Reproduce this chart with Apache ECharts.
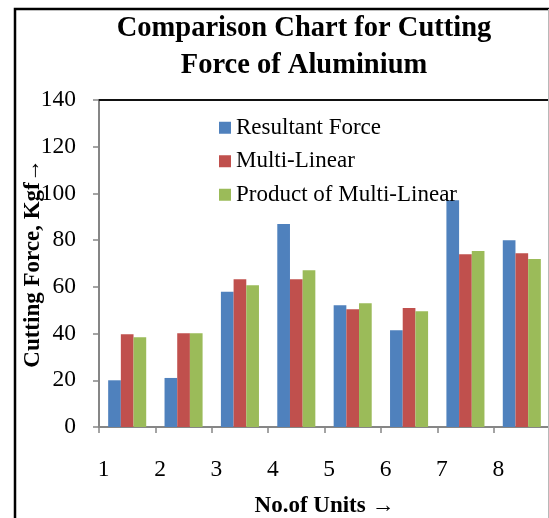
<!DOCTYPE html>
<html>
<head>
<meta charset="utf-8">
<style>
  html, body { margin: 0; padding: 0; background: #fff; }
  #chart { width: 549px; height: 518px; }
</style>
<script src="https://cdn.jsdelivr.net/npm/echarts@6/dist/echarts.min.js"></script>
</head>
<body>
<div id="chart"></div>
<script>
// Cutting force per unit for aluminium (Kgf)
const units = ['1', '2', '3', '4', '5', '6', '7', '8'];
const resultantForce = [20.0, 21.0, 57.9, 86.9, 52.1, 41.4, 97.1, 80.0];
const multiLinear = [39.7, 40.1, 63.3, 63.3, 50.4, 50.9, 74.0, 74.4];
const productOfMultiLinear = [38.4, 40.1, 60.7, 67.1, 53.0, 49.6, 75.3, 71.9];
const yTicks = { min: 0, max: 140, interval: 20 };

const serif = '"Liberation Serif", "Times New Roman", serif';
const axisGrey = '#868686';

const chart = echarts.init(document.getElementById('chart'), null, { renderer: 'canvas' });

chart.setOption({
  animation: false,
  backgroundColor: '#fff',
  textStyle: { fontFamily: serif, color: '#000' },
  title: {
    text: 'Comparison Chart for Cutting\nForce of Aluminium',
    left: 299,
    top: 5,
    textAlign: 'center',
    textStyle: {
      fontFamily: serif,
      fontSize: 28.5,
      fontWeight: 'bold',
      lineHeight: 37,
      color: '#000'
    }
  },
  legend: {
    orient: 'vertical',
    left: 214,
    top: 111,
    itemWidth: 12,
    itemHeight: 12,
    itemGap: 10,
    icon: 'rect',
    textStyle: { fontFamily: serif, fontSize: 23, lineHeight: 23.5, color: '#000' },
    data: ['Resultant Force', 'Multi-Linear', 'Product of Multi-Linear']
  },
  grid: {
    left: 99, top: 100, width: 451, height: 327,
    containLabel: false,
    outerBoundsMode: 'none'
  },
  xAxis: [
    {
      type: 'category',
      data: units,
      name: 'No.of Units →',
      nameLocation: 'middle',
      nameGap: 68,
      nameMoveOverlap: false,
      nameTextStyle: { fontFamily: serif, fontSize: 23, fontWeight: 'bold', color: '#000' },
      axisLine: { lineStyle: { color: axisGrey, width: 2 } },
      axisTick: { show: true, length: 6, lineStyle: { color: axisGrey, width: 1.5 } },
      axisLabel: {
        fontFamily: serif, fontSize: 23.5, color: '#000', margin: 31,
        padding: [0, 47, 0, 0]
      }
    },
    {
      type: 'category',
      data: units,
      position: 'top',
      axisLine: { lineStyle: { color: '#111', width: 2 } },
      axisTick: { show: false },
      axisLabel: { show: false }
    }
  ],
  yAxis: {
    type: 'value',
    min: yTicks.min,
    max: yTicks.max,
    interval: yTicks.interval,
    name: 'Cutting Force, Kgf→',
    nameLocation: 'middle',
    nameGap: 54,
    nameMoveOverlap: false,
    nameTextStyle: { fontFamily: serif, fontSize: 23, fontWeight: 'bold', color: '#000' },
    axisLine: { show: true, lineStyle: { color: axisGrey, width: 2 } },
    axisTick: { show: true, length: 6, lineStyle: { color: axisGrey, width: 1.5 } },
    axisLabel: { fontFamily: serif, fontSize: 23.5, color: '#000', margin: 23 },
    splitLine: { show: false }
  },
  series: [
    {
      name: 'Resultant Force', type: 'bar', data: resultantForce,
      itemStyle: { color: '#4F81BD' }, barGap: '0%', barCategoryGap: '32.5%'
    },
    {
      name: 'Multi-Linear', type: 'bar', data: multiLinear,
      itemStyle: { color: '#C0504D' }, barGap: '0%', barCategoryGap: '32.5%'
    },
    {
      name: 'Product of Multi-Linear', type: 'bar', data: productOfMultiLinear,
      itemStyle: { color: '#9BBB59' }, barGap: '0%', barCategoryGap: '32.5%'
    }
  ],
  graphic: [
    {
      type: 'rect',
      shape: { x: 15, y: 9, width: 700, height: 700 },
      style: { fill: null, stroke: '#000', lineWidth: 2.5 },
      silent: true,
      z: 100
    },
    {
      type: 'line',
      shape: { x1: 548.5, y1: 9, x2: 548.5, y2: 518 },
      style: { stroke: '#b8b8b8', lineWidth: 1 },
      silent: true,
      z: 100
    }
  ]
});
</script>
</body>
</html>
